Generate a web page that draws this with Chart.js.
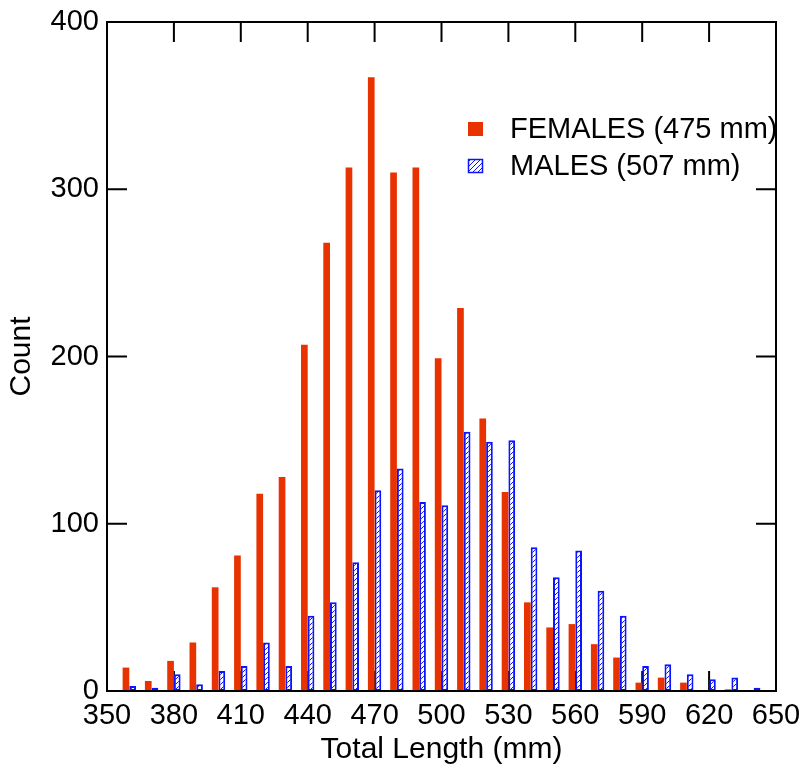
<!DOCTYPE html>
<html>
<head>
    <title>Total Length by Sex</title>
    <script src="https://cdn.jsdelivr.net/npm/chart.js"></script>
    <style>
        body {
            margin: 0;
            padding: 0;
            background-color: #fff;
        }
        canvas {
            display: block;
        }
    </style>
</head>
<body>
    <canvas id="lengthChart" width="803" height="772"></canvas>

    <script>
        // Length bins (mm) and counts per bin
        const lengths = [350, 360, 370, 380, 390, 400, 410, 420, 430, 440, 450,
                         460, 470, 480, 490, 500, 510, 520, 530, 540, 550,
                         560, 570, 580, 590, 600, 610, 620, 630, 640, 650];
        const females = [3, 14, 6, 18, 29, 62, 81, 118, 128, 207, 268,
                         313, 367, 310, 313, 199, 229, 163, 119, 53, 38,
                         40, 28, 20, 5, 8, 5, 0, 1, 0, 0];
        const males = [0, 3, 2, 10, 4, 12, 15, 29, 15, 45, 53,
                       77, 120, 133, 113, 111, 155, 149, 150, 86, 68,
                       84, 60, 45, 15, 16, 10, 7, 8, 2, 1];
        const xTickLabels = ['350', '380', '410', '440', '470', '500', '530', '560', '590', '620', '650'];
        const yTicks = [0, 100, 200, 300, 400];

        const FONT = '"Liberation Sans", Arial, sans-serif';
        const RED = '#e83200';
        const BLUE = '#0a14ff';

        // diagonal hatch for the male bars
        function hatch() {
            const c = document.createElement('canvas');
            c.width = 5;
            c.height = 5;
            const g = c.getContext('2d');
            g.fillStyle = '#fff';
            g.fillRect(0, 0, 5, 5);
            g.strokeStyle = BLUE;
            g.lineWidth = 1;
            g.beginPath();
            g.moveTo(0, 5); g.lineTo(5, 0);
            g.moveTo(-1, 1); g.lineTo(1, -1);
            g.moveTo(4, 6); g.lineTo(6, 4);
            g.stroke();
            return g.createPattern(c, 'repeat');
        }
        const malePattern = hatch();

        // inward tick marks on all four sides, drawn under the bars
        const frameTicks = {
            id: 'frameTicks',
            beforeDatasetsDraw(chart) {
                const { ctx, chartArea: a, scales } = chart;
                ctx.save();
                ctx.strokeStyle = '#000';
                ctx.lineWidth = 2;
                ctx.beginPath();
                lengths.forEach((v, i) => {
                    if (xTickLabels.indexOf(String(v)) < 0) return;
                    const x = scales.x.getPixelForValue(i);
                    ctx.moveTo(x, a.top); ctx.lineTo(x, a.top + 20);
                    ctx.moveTo(x, a.bottom); ctx.lineTo(x, a.bottom - 20);
                });
                yTicks.forEach(v => {
                    const y = scales.y.getPixelForValue(v);
                    ctx.moveTo(a.left, y); ctx.lineTo(a.left + 20, y);
                    ctx.moveTo(a.right, y); ctx.lineTo(a.right - 20, y);
                });
                ctx.stroke();
                ctx.restore();
            },
            afterDatasetsDraw(chart) {
                const { ctx, chartArea: a } = chart;
                ctx.save();
                ctx.strokeStyle = '#000';
                ctx.lineWidth = 2;
                ctx.strokeRect(a.left, a.top, a.right - a.left, a.bottom - a.top);
                ctx.restore();
            }
        };

        // legend inside the plot, upper right
        const boxLegend = {
            id: 'boxLegend',
            afterDraw(chart) {
                const { ctx } = chart;
                ctx.save();
                ctx.font = '29px ' + FONT;
                ctx.textBaseline = 'middle';
                ctx.fillStyle = '#000';
                chart.data.datasets.forEach((ds, i) => {
                    const y = 129 + i * 37;
                    ctx.fillStyle = ds.backgroundColor;
                    ctx.fillRect(468, y - 7, 15, 14);
                    if (ds.borderWidth) {
                        ctx.strokeStyle = ds.borderColor;
                        ctx.lineWidth = 1.5;
                        ctx.strokeRect(468.5, y - 6.5, 14, 13);
                    }
                    ctx.fillStyle = '#000';
                    ctx.fillText(ds.label, 510, y + 1);
                });
                ctx.restore();
            }
        };

        new Chart(document.getElementById('lengthChart'), {
            type: 'bar',
            data: {
                labels: lengths,
                datasets: [
                    {
                        label: 'FEMALES (475 mm)',
                        data: females,
                        backgroundColor: RED,
                        borderWidth: 0
                    },
                    {
                        label: 'MALES (507 mm)',
                        data: males,
                        backgroundColor: malePattern,
                        borderColor: BLUE,
                        borderWidth: 2,
                        borderSkipped: false
                    }
                ]
            },
            options: {
                responsive: false,
                animation: false,
                devicePixelRatio: 1,
                clip: 1,
                layout: { padding: { top: 22, right: 27, left: 0, bottom: 0 } },
                datasets: {
                    bar: { categoryPercentage: 0.6, barPercentage: 1.0 }
                },
                plugins: {
                    legend: { display: false },
                    tooltip: { enabled: false }
                },
                scales: {
                    x: {
                        offset: false,
                        grid: { display: false, drawTicks: false },
                        border: { display: false },
                        ticks: {
                            autoSkip: false,
                            maxRotation: 0,
                            padding: 8,
                            color: '#000',
                            font: { family: FONT, size: 29 },
                            callback: function (val, i) {
                                const s = String(lengths[i]);
                                return xTickLabels.indexOf(s) >= 0 ? s : '';
                            }
                        },
                        title: {
                            display: true,
                            text: 'Total Length (mm)',
                            color: '#000',
                            font: { family: FONT, size: 30, lineHeight: 1.2 },
                            padding: { top: 0, bottom: 4 }
                        },
                        afterFit(scale) {
                            scale.height = 81;
                            scale.paddingLeft = 0;
                            scale.paddingRight = 0;
                        }
                    },
                    y: {
                        min: 0,
                        max: 400,
                        grid: { display: false, drawTicks: false },
                        border: { display: false },
                        ticks: {
                            stepSize: 100,
                            padding: 8,
                            color: '#000',
                            font: { family: FONT, size: 29 }
                        },
                        title: {
                            display: true,
                            text: 'Count',
                            color: '#000',
                            font: { family: FONT, size: 30, lineHeight: 1.2 },
                            padding: { top: 4, bottom: 0 }
                        },
                        afterFit(scale) {
                            scale.width = 107;
                            scale.paddingTop = 0;
                            scale.paddingBottom = 0;
                        }
                    }
                }
            },
            plugins: [frameTicks, boxLegend]
        });
    </script>
</body>
</html>
